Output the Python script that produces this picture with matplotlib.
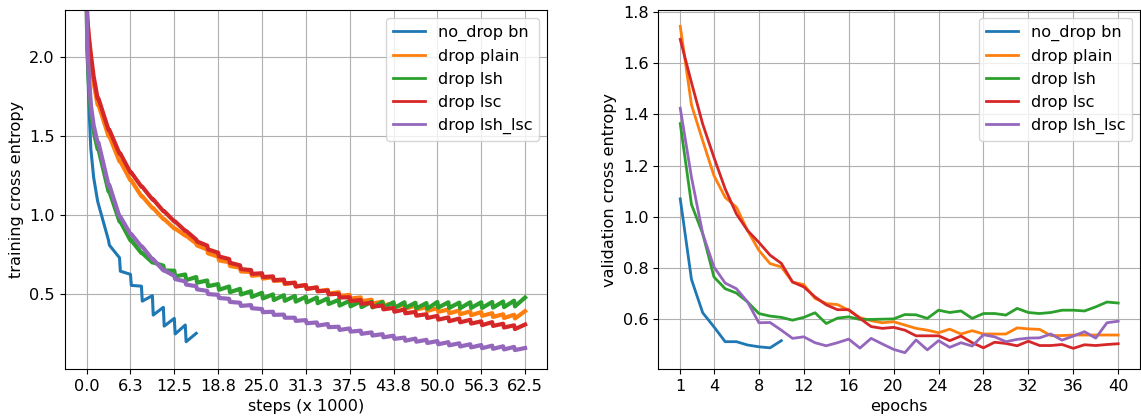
import numpy as np
import matplotlib
matplotlib.use('Agg')
import matplotlib.pyplot as plt

plt.rcParams['font.size'] = 11.6

# steps per epoch, in thousands of steps
EPOCH = 1.5625

names = ['no_drop bn', 'drop plain', 'drop lsh', 'drop lsc', 'drop lsh_lsc']

# training loss: first few readings inside epoch 0, then per epoch
# hi = value at the end of epoch k, lo = value just after the drop at start of epoch k (k>=1)
head_steps = [0.0, 0.1, 0.3, 0.6, 1.0]

bn_head = [2.35, 2.05, 1.72, 1.42, 1.24]
bn_hi = [1.09, 0.84, 0.73, 0.625, 0.55, 0.49, 0.416, 0.346, 0.304, 0.251]
bn_lo = [1.07, 0.81, 0.645, 0.555, 0.455, 0.367, 0.297, 0.247, 0.198]

plain_head = [2.36, 2.24, 2.12, 1.99, 1.84]
plain_hi = [1.70, 1.50, 1.34, 1.22, 1.12, 1.045, 0.975, 0.915, 0.87, 0.82,
            0.782, 0.737, 0.702, 0.667, 0.64, 0.622, 0.607, 0.587, 0.572, 0.557,
            0.542, 0.527, 0.512, 0.495, 0.479, 0.464, 0.452, 0.442, 0.432, 0.426,
            0.417, 0.411, 0.402, 0.396, 0.39, 0.386, 0.379, 0.372, 0.369, 0.392]
plain_lo = [1.70, 1.50, 1.34, 1.22, 1.12, 1.045, 0.975, 0.915, 0.87,
            0.808, 0.758, 0.713, 0.678, 0.643, 0.616, 0.598, 0.583, 0.563, 0.548,
            0.533, 0.518, 0.503, 0.488, 0.471, 0.455, 0.44, 0.428, 0.418, 0.408,
            0.402, 0.393, 0.387, 0.378, 0.372, 0.366, 0.362, 0.355, 0.348, 0.345]

lsh_head = [2.36, 2.05, 1.85, 1.66, 1.53]
lsh_hi = [1.42, 1.15, 0.96, 0.84, 0.76, 0.70, 0.68, 0.648, 0.624, 0.608,
          0.586, 0.563, 0.548, 0.533, 0.518, 0.508, 0.498, 0.493, 0.488, 0.483,
          0.478, 0.473, 0.463, 0.458, 0.453, 0.451, 0.45, 0.448, 0.448, 0.445,
          0.443, 0.45, 0.448, 0.446, 0.448, 0.448, 0.45, 0.453, 0.458, 0.478]
lsh_lo = [1.42, 1.15, 0.96, 0.84, 0.76, 0.70, 0.65, 0.612, 0.588,
          0.572, 0.55, 0.527, 0.512, 0.497, 0.482, 0.472, 0.462, 0.457, 0.452,
          0.447, 0.442, 0.437, 0.427, 0.422, 0.417, 0.415, 0.414, 0.412, 0.412,
          0.409, 0.407, 0.414, 0.412, 0.41, 0.412, 0.412, 0.414, 0.417, 0.422]

lsc_head = [2.36, 2.25, 2.14, 2.02, 1.88]
lsc_hi = [1.74, 1.54, 1.39, 1.27, 1.18, 1.10, 1.025, 0.96, 0.90, 0.845,
          0.807, 0.762, 0.722, 0.682, 0.652, 0.632, 0.612, 0.592, 0.572, 0.557,
          0.542, 0.522, 0.502, 0.48, 0.462, 0.444, 0.427, 0.412, 0.402, 0.387,
          0.372, 0.362, 0.352, 0.345, 0.337, 0.327, 0.322, 0.312, 0.302, 0.307]
lsc_lo = [1.74, 1.54, 1.39, 1.27, 1.18, 1.10, 1.025, 0.96, 0.90,
          0.833, 0.783, 0.738, 0.698, 0.658, 0.628, 0.608, 0.588, 0.568, 0.548,
          0.533, 0.518, 0.498, 0.478, 0.456, 0.438, 0.42, 0.403, 0.388, 0.378,
          0.363, 0.348, 0.338, 0.328, 0.321, 0.313, 0.303, 0.298, 0.288, 0.278]

both_head = [2.36, 2.1, 1.9, 1.7, 1.57]
both_hi = [1.46, 1.19, 0.99, 0.88, 0.80, 0.72, 0.65, 0.615, 0.58, 0.55,
           0.52, 0.495, 0.47, 0.445, 0.43, 0.405, 0.388, 0.37, 0.35, 0.335,
           0.32, 0.31, 0.293, 0.282, 0.268, 0.257, 0.246, 0.236, 0.224, 0.218,
           0.21, 0.202, 0.195, 0.188, 0.182, 0.177, 0.173, 0.169, 0.165, 0.158]
both_lo = [1.46, 1.19, 0.99, 0.88, 0.80, 0.72, 0.65, 0.595, 0.56,
           0.53, 0.50, 0.475, 0.45, 0.425, 0.41, 0.385, 0.368, 0.35, 0.33,
           0.315, 0.30, 0.29, 0.273, 0.262, 0.248, 0.237, 0.226, 0.216, 0.204,
           0.198, 0.19, 0.182, 0.175, 0.168, 0.162, 0.157, 0.153, 0.149, 0.145]

train = [(bn_head, bn_hi, bn_lo), (plain_head, plain_hi, plain_lo),
         (lsh_head, lsh_hi, lsh_lo), (lsc_head, lsc_hi, lsc_lo),
         (both_head, both_hi, both_lo)]

step_ticks = [0, 6.25, 12.5, 18.75, 25, 31.25, 37.5, 43.75, 50, 56.25, 62.5]
step_labels = ['0.0', '6.3', '12.5', '18.8', '25.0', '31.3', '37.5', '43.8', '50.0', '56.3', '62.5']

# validation loss per epoch
epochs_bn = list(range(1, 11))
val_bn = [1.07, 0.755, 0.625, 0.57, 0.512, 0.512, 0.499, 0.492, 0.488, 0.516]

epochs = list(range(1, 41))
val_plain = [1.744, 1.437, 1.297, 1.161, 1.076, 1.037, 0.946, 0.869, 0.817, 0.804,
             0.745, 0.735, 0.681, 0.661, 0.657, 0.635, 0.606, 0.594, 0.586, 0.59,
             0.577, 0.564, 0.557, 0.547, 0.561, 0.542, 0.555, 0.542, 0.542, 0.542,
             0.566, 0.562, 0.56, 0.536, 0.536, 0.538, 0.538, 0.538, 0.538, 0.538]
val_lsh = [1.364, 1.048, 0.934, 0.765, 0.719, 0.702, 0.667, 0.622, 0.612, 0.607,
           0.596, 0.607, 0.625, 0.583, 0.604, 0.609, 0.599, 0.599, 0.6, 0.601,
           0.618, 0.617, 0.603, 0.635, 0.626, 0.632, 0.603, 0.622, 0.622, 0.616,
           0.642, 0.626, 0.622, 0.626, 0.635, 0.635, 0.632, 0.648, 0.667, 0.663]
val_lsc = [1.693, 1.524, 1.362, 1.232, 1.109, 1.011, 0.946, 0.90, 0.85, 0.818,
           0.745, 0.726, 0.687, 0.656, 0.637, 0.637, 0.603, 0.571, 0.564, 0.568,
           0.557, 0.535, 0.535, 0.535, 0.516, 0.534, 0.508, 0.488, 0.51, 0.505,
           0.496, 0.514, 0.497, 0.497, 0.501, 0.486, 0.5, 0.497, 0.501, 0.504]
val_both = [1.424, 1.154, 0.934, 0.804, 0.741, 0.719, 0.667, 0.586, 0.587, 0.557,
            0.525, 0.531, 0.508, 0.496, 0.508, 0.522, 0.487, 0.525, 0.503, 0.482,
            0.469, 0.519, 0.48, 0.516, 0.49, 0.508, 0.495, 0.539, 0.531, 0.512,
            0.521, 0.526, 0.527, 0.542, 0.518, 0.534, 0.551, 0.526, 0.586, 0.592]
val = [(epochs_bn, val_bn), (epochs, val_plain), (epochs, val_lsh),
       (epochs, val_lsc), (epochs, val_both)]


def build(head, hi, lo):
    xs = list(head_steps)
    ys = list(head)
    for k in range(len(hi)):
        if k > 0:
            xs.append(k * EPOCH + 0.12)
            ys.append(lo[k - 1])
        xs.append((k + 1) * EPOCH)
        ys.append(hi[k])
    return xs, ys


fig = plt.figure(figsize=(11.41, 4.19), dpi=100)
ax1 = fig.add_axes([0.0567, 0.1193, 0.4227, 0.8568])
ax2 = fig.add_axes([0.577, 0.1193, 0.4222, 0.8568])

for i, (name, (head, hi, lo)) in enumerate(zip(names, train)):
    xs, ys = build(head, hi, lo)
    ax1.plot(xs, ys, lw=2.2 if i == 0 else 3.0, label=name)
ax1.set_xticks(step_ticks)
ax1.set_xticklabels(step_labels)
ax1.set_ylim(0.025, 2.3)
ax1.set_yticks([0.5, 1.0, 1.5, 2.0])
ax1.set_xlabel('steps (x 1000)')
ax1.set_ylabel('training cross entropy')
ax1.grid()
leg = ax1.legend(loc='upper right')
for l in leg.get_lines():
    l.set_linewidth(2.0)

for name, (ep, v) in zip(names, val):
    ax2.plot(ep, v, lw=2.0, label=name)
ax2.set_xticks([1, 4, 8, 12, 16, 20, 24, 28, 32, 36, 40])
ax2.set_xlabel('epochs')
ax2.set_ylabel('validation cross entropy')
ax2.grid()
ax2.legend(loc='upper right')

fig.savefig('out.png', dpi=100)
